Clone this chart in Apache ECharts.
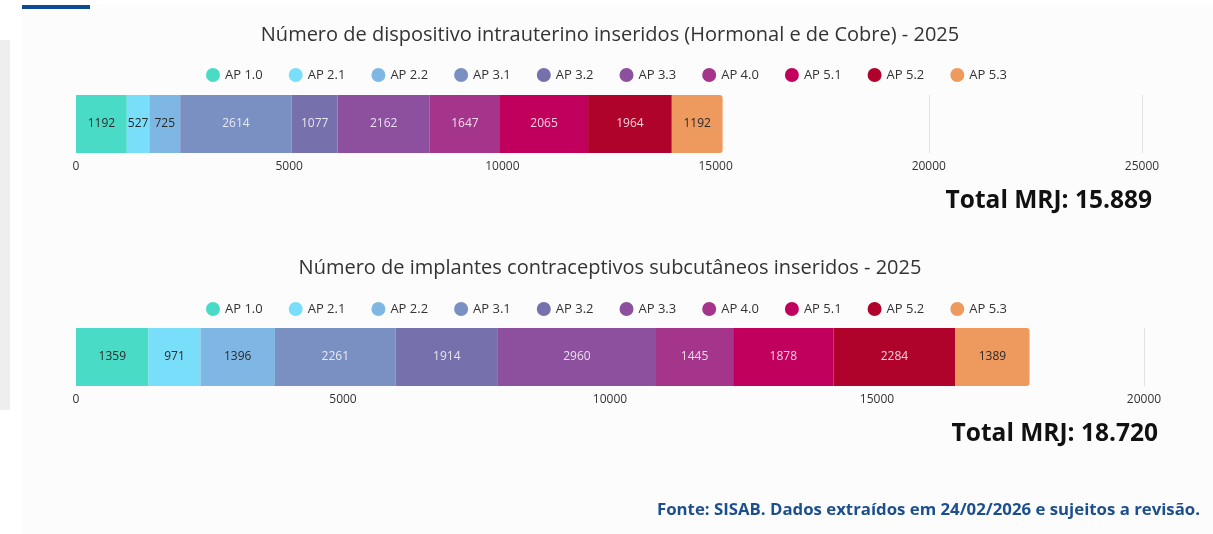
<!DOCTYPE html>
<html><head><meta charset="utf-8">
<script src="https://cdn.jsdelivr.net/npm/echarts@6/dist/echarts.min.js"></script>
<style>html,body{margin:0;padding:0;background:#fff;}#c{width:1213px;height:534px;}</style>
</head><body><div id="c"></div>
<script>
const categories = ['AP 1.0','AP 2.1','AP 2.2','AP 3.1','AP 3.2','AP 3.3','AP 4.0','AP 5.1','AP 5.2','AP 5.3'];
const diuValues = [1192, 527, 725, 2614, 1077, 2162, 1647, 2065, 1964, 1192];
const implanteValues = [1359, 971, 1396, 2261, 1914, 2960, 1445, 1878, 2284, 1389];
const title1 = 'Número de dispositivo intrauterino inseridos (Hormonal e de Cobre) - 2025';
const title2 = 'Número de implantes contraceptivos subcutâneos inseridos - 2025';
const total1 = 'Total MRJ: 15.889';
const total2 = 'Total MRJ: 18.720';
const fonte = 'Fonte: SISAB. Dados extraídos em 24/02/2026 e sujeitos a revisão.';
const axis1Max = 25000, axis2Max = 20000;

const colors = ['#4adbc7','#78defa','#7fb7e4','#7a90c3','#7670ad','#8c509f','#a4358b','#c1005d','#b0032b','#ee9a5f'];
const darkLabel = [true,true,true,false,false,false,false,false,false,true];
const FF = "'Open Sans', 'Noto Sans', sans-serif";

function makeSeries(values, gi) {
  return categories.map((name, i) => ({
    name: name,
    type: 'bar',
    stack: 's' + gi,
    xAxisIndex: gi,
    yAxisIndex: gi,
    barWidth: 58,
    data: [values[i]],
    itemStyle: { color: colors[i], borderRadius: i === categories.length - 1 ? [0,3,3,0] : 0 },
    label: {
      show: true, position: 'inside', fontFamily: FF, fontSize: 12,
      color: darkLabel[i] ? '#2a2a2a' : 'rgba(255,255,255,0.82)',
      textBorderWidth: 0
    },
    emphasis: { disabled: true },
    animation: false
  }));
}

const legendBase = {
  data: categories, icon: 'circle', itemWidth: 14, itemHeight: 14, itemGap: 26,
  textStyle: { fontFamily: FF, fontSize: 13, color: '#333' }, left: 'center'
};

const axisCommon = {
  axisLine: { show: false }, axisTick: { show: false },
  axisLabel: { fontFamily: FF, fontSize: 12, color: '#333', margin: 8, formatter: v => String(v) },
  splitLine: { show: true, lineStyle: { color: '#e2e2e2' } }
};

const chart = echarts.init(document.getElementById('c'));
chart.setOption({
  backgroundColor: '#fcfcfc',
  animation: false,
  title: [
    { text: title1, left: 605, textAlign: 'center', top: 20, textStyle: { fontFamily: FF, fontSize: 20, fontWeight: 'normal', color: '#333' } },
    { text: title2, left: 605, textAlign: 'center', top: 253, textStyle: { fontFamily: FF, fontSize: 20, fontWeight: 'normal', color: '#333' } }
  ],
  legend: [
    Object.assign({}, legendBase, { top: 63 }),
    Object.assign({}, legendBase, { top: 297 })
  ],
  grid: [
    { left: 76, right: 71, top: 95, height: 58 },
    { left: 76, right: 69, top: 328, height: 58 }
  ],
  xAxis: [
    Object.assign({ type: 'value', gridIndex: 0, min: 0, max: axis1Max, interval: 5000 }, axisCommon),
    Object.assign({ type: 'value', gridIndex: 1, min: 0, max: axis2Max, interval: 5000 }, axisCommon)
  ],
  yAxis: [
    { type: 'category', gridIndex: 0, data: ['2025'], show: false },
    { type: 'category', gridIndex: 1, data: ['2025'], show: false }
  ],
  graphic: [
    { type: 'rect', shape: { x: 0, y: 0, width: 22, height: 534 }, style: { fill: '#ffffff' }, z: -10 },
    { type: 'rect', shape: { x: 0, y: 40, width: 10, height: 370 }, style: { fill: '#eeeeee' }, z: -9 },
    { type: 'rect', shape: { x: 22, y: 0, width: 1191, height: 5 }, style: { fill: '#ffffff' }, z: -9 },
    { type: 'rect', shape: { x: 22, y: 5, width: 68, height: 4 }, style: { fill: '#0d4a94' }, z: 10 },
    { type: 'text', right: 61, top: 189, style: { text: total1, font: "bold 24.5px " + FF, fill: '#111' } },
    { type: 'text', right: 55, top: 422, style: { text: total2, font: "bold 24.5px " + FF, fill: '#111' } },
    { type: 'text', right: 13, top: 502, style: { text: fonte, font: "bold 16.8px " + FF, fill: '#1c4f8e' } }
  ],
  series: makeSeries(diuValues, 0).concat(makeSeries(implanteValues, 1))
});
</script></body></html>
